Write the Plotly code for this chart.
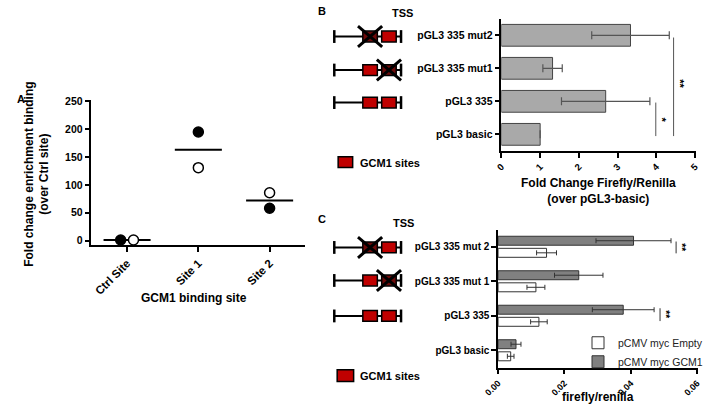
import plotly.graph_objects as go

W, H = 708, 415
def px(x): return x / W
def py(y): return 1 - y / H

FONT = "Arial, Liberation Sans, sans-serif"

# ---------------- data ----------------
# Panel A
a_sites = ["Ctrl Site", "Site 1", "Site 2"]
a_filled = [1, 195, 58]
a_open = [1, 131, 86]
a_yticks = [0, 50, 100, 150, 200, 250]

# Panel B
b_constructs = ["pGL3 basic", "pGL3 335", "pGL3 335 mut1", "pGL3 335 mut2"]
b_fold = [1.0, 2.69, 1.32, 3.33]
b_err = [0, 1.14, 0.25, 1.0]
b_xticks = [0, 1, 2, 3, 4, 5]

# Panel C
c_constructs = ["pGL3 basic", "pGL3 335", "pGL3 335 mut 1", "pGL3 335 mut 2"]
c_empty = [0.0038, 0.0123, 0.0114, 0.0146]
c_empty_err = [0.0010, 0.0025, 0.0027, 0.0030]
c_gcm1 = [0.0054, 0.0377, 0.0243, 0.0408]
c_gcm1_err = [0.0015, 0.0093, 0.0073, 0.0113]
c_xticks = [0.00, 0.02, 0.04, 0.06]

# ---------------- figure ----------------
fig = go.Figure()

# Panel A points (small horizontal jitter on the control site only, as drawn)
jit_f = [-0.09, 0, 0]
jit_o = [0.09, 0, 0]
xs = list(range(len(a_sites)))
mx, my = [], []
for i, (f, o) in enumerate(zip(a_filled, a_open)):
    m = (f + o) / 2
    mx += [i - 0.33, i + 0.33, None]
    my += [m, m, None]
fig.add_trace(go.Scatter(x=mx, y=my, mode="lines", line=dict(color="black", width=2),
                         showlegend=False, xaxis="x", yaxis="y", hoverinfo="skip"))
fig.add_trace(go.Scatter(x=[x + j for x, j in zip(xs, jit_f)], y=a_filled, mode="markers",
                         marker=dict(size=10, color="black", line=dict(color="black", width=1.5)),
                         showlegend=False, xaxis="x", yaxis="y"))
fig.add_trace(go.Scatter(x=[x + j for x, j in zip(xs, jit_o)], y=a_open, mode="markers",
                         marker=dict(size=10, color="white", line=dict(color="black", width=1.5)),
                         showlegend=False, xaxis="x", yaxis="y"))

# Panel B bars
fig.add_trace(go.Bar(x=b_fold, y=b_constructs, orientation="h", width=0.66,
                     marker=dict(color="#a9a9a9", line=dict(color="#444", width=1)),
                     error_x=dict(type="data", array=b_err, color="#555", thickness=1.2, width=4),
                     showlegend=False, xaxis="x2", yaxis="y2"))

# Panel C bars
fig.add_trace(go.Bar(x=c_empty, y=c_constructs, orientation="h", name="pCMV myc Empty",
                     offset=-0.30, width=0.26,
                     marker=dict(color="white", line=dict(color="#333", width=1)),
                     error_x=dict(type="data", array=c_empty_err, color="#333", thickness=1, width=2.5),
                     xaxis="x3", yaxis="y3"))
fig.add_trace(go.Bar(x=c_gcm1, y=c_constructs, orientation="h", name="pCMV myc GCM1",
                     offset=0.05, width=0.26,
                     marker=dict(color="#808080", line=dict(color="#333", width=1)),
                     error_x=dict(type="data", array=c_gcm1_err, color="#333", thickness=1, width=2.5),
                     xaxis="x3", yaxis="y3"))

def tf(size):
    return dict(family=FONT, size=size, color="black", weight="bold")

axis_common = dict(showline=True, linecolor="black", linewidth=1.5, ticks="outside",
                   ticklen=5, tickwidth=1.5, tickcolor="black", showgrid=False,
                   zeroline=False)

fig.update_layout(
    width=W, height=H, margin=dict(l=0, r=0, t=0, b=0),
    paper_bgcolor="white", plot_bgcolor="white",
    font=dict(family=FONT, color="black"),
    barmode="overlay",
    xaxis=dict(domain=[px(79), px(300)], range=[-0.5, 2.5], tickvals=xs, ticktext=a_sites,
               tickangle=-45, anchor="y", tickfont=tf(11.5), **axis_common),
    yaxis=dict(domain=[py(244), py(96.7)], range=[-8.8, 252], tickvals=a_yticks,
               anchor="x", tickfont=tf(10.5), **axis_common),
    xaxis2=dict(domain=[px(502.7), px(703.5)], range=[0, 5.01], tickvals=b_xticks,
                tickangle=-45, anchor="y2", tickfont=tf(9.5), **axis_common),
    yaxis2=dict(domain=[py(148), py(14)], range=[-0.5, 3.5], type="category",
                categoryorder="array", categoryarray=b_constructs, anchor="x2",
                tickfont=tf(10.5), **axis_common),
    xaxis3=dict(domain=[px(499.3), px(705.5)], range=[0, 0.0601], tickvals=c_xticks,
                tickformat=".2f", tickangle=-45, anchor="y3", tickfont=tf(9), **axis_common),
    yaxis3=dict(domain=[py(368), py(228)], range=[-0.5, 3.5], type="category",
                categoryorder="array", categoryarray=c_constructs, anchor="x3",
                tickfont=tf(10), **axis_common),
    legend=dict(x=px(582), y=py(328), xanchor="left", yanchor="top",
                font=dict(family=FONT, size=10.5, color="#222"), bgcolor="rgba(0,0,0,0)",
                tracegroupgap=0),
)

shapes = []
annos = []

def line(x0, y0, x1, y1, w=2, color="black"):
    shapes.append(dict(type="line", xref="paper", yref="paper", x0=px(x0), y0=py(y0),
                       x1=px(x1), y1=py(y1), line=dict(color=color, width=w)))

def rect(x0, y0, x1, y1, fill):
    shapes.append(dict(type="rect", xref="paper", yref="paper", x0=px(x0), y0=py(y0),
                       x1=px(x1), y1=py(y1), fillcolor=fill, line=dict(color="black", width=1.5)))

def text(x, y, s, size=11, bold=True, anchor="center", angle=0, color="black"):
    annos.append(dict(xref="paper", yref="paper", x=px(x), y=py(y), text=s, showarrow=False,
                      xanchor=anchor, yanchor="middle", textangle=angle,
                      font=dict(family=FONT, size=size, color=color,
                                weight="bold" if bold else "normal")))

def construct(yc, crossed):
    line(330, yc, 399, yc, w=2)
    line(330, yc - 6.5, 330, yc + 6.5, w=2.5)
    line(399, yc - 6.5, 399, yc + 6.5, w=2.5)
    for i, cx in enumerate([367, 386.5]):
        fill = "#6e0a0a" if crossed == i else "#c00000"
        rect(cx - 7.5, yc - 5.5, cx + 7.5, yc + 5.5, fill)
        if crossed == i:
            line(cx - 12.5, yc - 10.5, cx + 12.5, yc + 10.5, w=3)
            line(cx - 12.5, yc + 10.5, cx + 12.5, yc - 10.5, w=3)

# diagrams B
for yc, cr in [(32, 0), (66, 1), (99, None)]:
    construct(yc, cr)
text(400, 8, "TSS")
rect(334, 154, 349, 165, "#c00000")
text(355, 160, "GCM1 sites", anchor="left")

# diagrams C
for yc, cr in [(246, 0), (279.5, 1), (315.5, None)]:
    construct(yc, cr)
text(402, 221, "TSS")
rect(333, 370, 350, 382, "#c00000")
text(355, 376, "GCM1 sites", anchor="left")

# panel letters
text(6, 95, "A")
text(317, 6, "B")
text(317, 217, "C")

# titles
text(22, 172, "Fold change enrichment binding<br>(over Ctrl site)", size=12, angle=-90)
text(185, 297, "GCM1 binding site", size=12)
text(603, 189, "Fold Change Firefly/Renilla<br>(over pGL3-basic)", size=12)
text(603, 398, "firefly/renilla", size=12)

# significance marks B
line(662.3, 99, 662.3, 133, w=1, color="#555")
text(668.5, 117, "*", size=11, angle=90)
line(680.7, 33, 680.7, 133, w=1, color="#555")
text(687, 80, "**", size=11, angle=90)

# significance marks C
line(683.3, 240, 683.3, 252, w=1, color="#333")
text(688.5, 246, "**", size=10, angle=90)
line(666.7, 307.7, 666.7, 320.7, w=1, color="#333")
text(672, 314, "**", size=10, angle=90)

fig.update_layout(shapes=shapes, annotations=annos)
fig.write_html("out.html", config={"displayModeBar": False},
               post_script="document.body.style.margin='0px';")
